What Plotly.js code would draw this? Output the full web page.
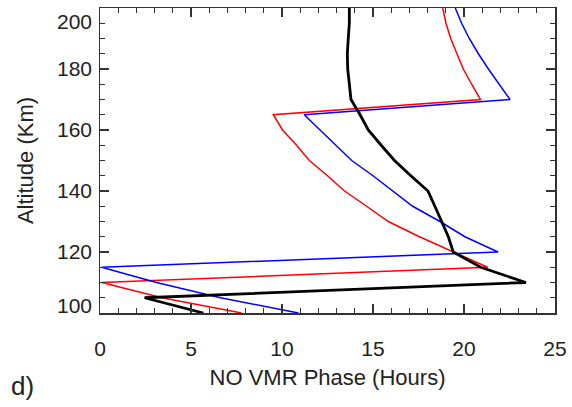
<!DOCTYPE html>
<html>
<head>
<meta charset="utf-8">
<script src="https://cdn.plot.ly/plotly-3.0.1.min.js"></script>
<style>html,body{margin:0;padding:0;background:#fff;}#chart{width:572px;height:407px;}</style>
</head>
<body>
<div id="chart"></div>
<script>
// Altitude levels (km)
const altitude = [200,195,190,185,180,175,170,165,160,155,150,145,140,135,130,125,120,115,110,105,100];
// NO VMR phase (hours)
const phaseBlack = [13.70,13.70,13.64,13.59,13.61,13.68,13.79,14.29,14.74,15.45,16.18,17.08,18.02,18.40,18.76,19.14,19.41,20.92,23.40,2.45,5.68];
const phaseRed   = [18.83,19.01,19.27,19.60,19.96,20.42,20.91,9.52,10.03,10.80,11.50,12.50,13.44,14.65,15.84,17.55,19.41,21.30,0.09,3.40,7.78];
const phaseBlue  = [19.52,19.87,20.29,20.79,21.34,21.94,22.53,11.22,12.09,12.95,13.83,15.00,16.12,17.18,18.68,20.05,21.87,0.09,3.10,6.62,10.90];
// Axis ticks
const xTickVals = [0,5,10,15,20,25];
const yTickVals = [100,120,140,160,180,200];
const yLabelPos = [102.5,120,140,160,180,195.6];
const yLabelText = ['100','120','140','160','180','200'];

const FONT = 'Liberation Sans, Arial, Helvetica, sans-serif';
const AX = '#333333';

const traces = [
  {x: phaseRed, y: altitude, mode: 'lines', line: {color: '#ff0000', width: 1.5}, showlegend: false, hoverinfo: 'skip'},
  {x: phaseBlue, y: altitude, mode: 'lines', line: {color: '#0000ff', width: 1.5}, showlegend: false, hoverinfo: 'skip'},
  {x: phaseBlack, y: altitude, mode: 'lines', line: {color: '#000000', width: 2.8}, showlegend: false, hoverinfo: 'skip'},
  {x: [null], y: [null], yaxis: 'y2', mode: 'lines', showlegend: false, hoverinfo: 'skip'}
];

const layout = {
  width: 572, height: 407,
  margin: {l: 100, r: 17, t: 7.5, b: 94.3, pad: 0},
  paper_bgcolor: '#ffffff', plot_bgcolor: '#ffffff',
  font: {family: FONT, size: 21, color: '#222222'},
  showlegend: false,
  xaxis: {
    range: [0, 25], tickvals: xTickVals, ticks: 'inside', ticklen: 9, tickwidth: 1.3, tickcolor: AX,
    minor: {dtick: 1, ticks: 'inside', ticklen: 5, tickwidth: 1.3, tickcolor: AX},
    showline: true, linecolor: AX, linewidth: 1.5, mirror: 'ticks', showgrid: false, zeroline: false,
    ticklabelstandoff: 16, tickfont: {family: FONT, size: 21, color: '#222222'},
    title: {text: 'NO VMR Phase (Hours)', font: {family: FONT, size: 22, color: '#222222'}, standoff: 11}
  },
  yaxis: {
    range: [100, 200], tickvals: yTickVals, ticks: 'inside', ticklen: 9, tickwidth: 1.3, tickcolor: AX,
    minor: {dtick: 5, ticks: 'inside', ticklen: 5, tickwidth: 1.3, tickcolor: AX},
    showline: true, linecolor: AX, linewidth: 1.5, mirror: 'ticks', showgrid: false, zeroline: false,
    showticklabels: false
  },
  yaxis2: {
    range: [100, 200], overlaying: 'y', side: 'left', anchor: 'x',
    tickvals: yLabelPos, ticktext: yLabelText, ticks: '', showline: false, showgrid: false, zeroline: false,
    ticklabelstandoff: 7, tickfont: {family: FONT, size: 21, color: '#222222'},
    title: {text: 'Altitude (Km)', font: {family: FONT, size: 22, color: '#222222'}, standoff: 17}
  },
  annotations: [
    {text: 'd)', xref: 'paper', yref: 'paper', x: -0.2, y: -0.24, xanchor: 'left', yanchor: 'middle',
     showarrow: false, font: {family: FONT, size: 26, color: '#222222'}}
  ]
};

Plotly.newPlot('chart', traces, layout, {displayModeBar: false, staticPlot: true});
</script>
</body>
</html>
